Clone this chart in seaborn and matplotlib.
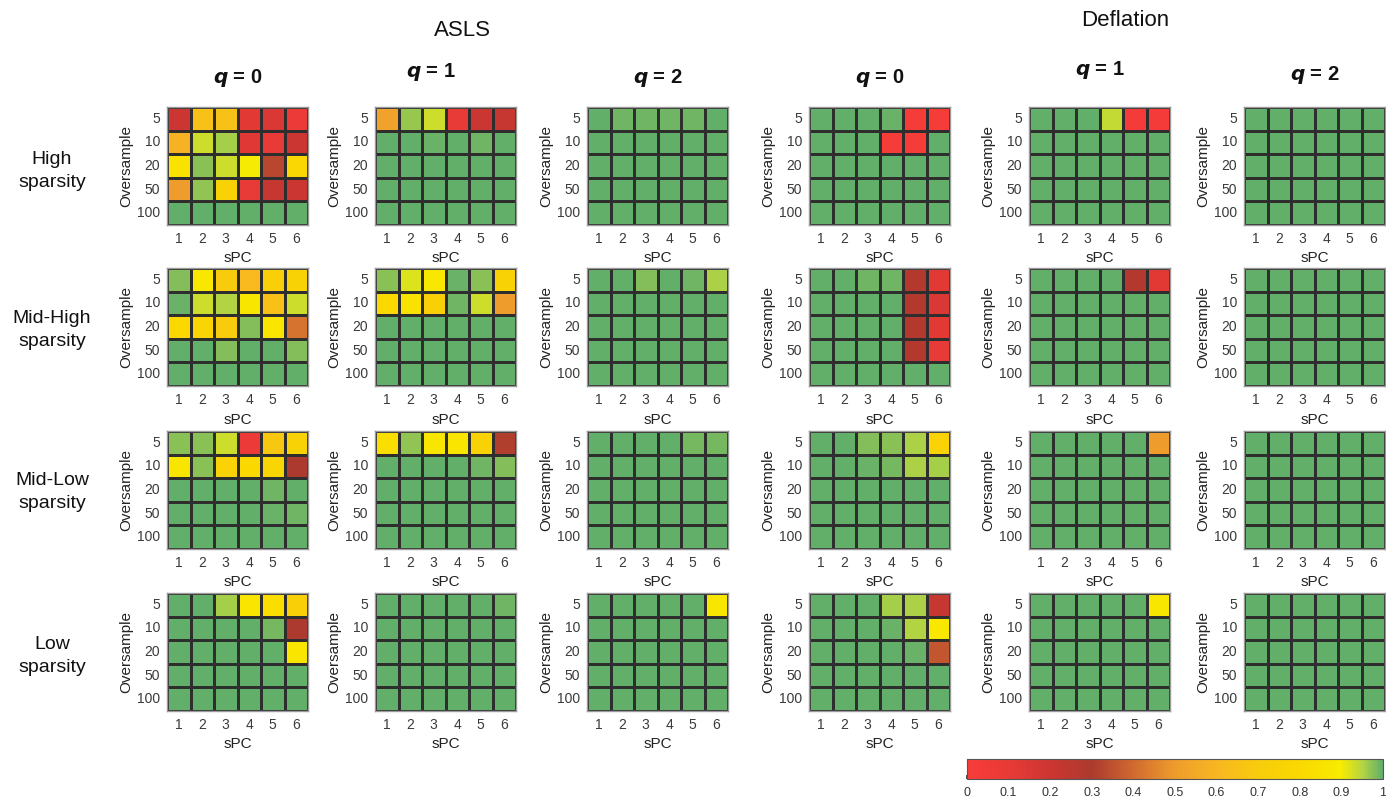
import numpy as np
import pandas as pd
import matplotlib
matplotlib.use("Agg")
import matplotlib.pyplot as plt
from matplotlib.colors import LinearSegmentedColormap, Normalize
from matplotlib.cm import ScalarMappable
import seaborn as sns

sns.set_theme(style="white")
plt.rcParams["font.family"] = ["Liberation Sans", "DejaVu Sans"]

# axis categories
oversample = ["5", "10", "20", "50", "100"]
spc = ["1", "2", "3", "4", "5", "6"]
sparsity_levels = ["High\nsparsity", "Mid-High\nsparsity", "Mid-Low\nsparsity", "Low\nsparsity"]
methods = ["ASLS", "Deflation"]
q_values = [0, 1, 2]
cbar_ticks = [0, 0.1, 0.2, 0.3, 0.4, 0.5, 0.6, 0.7, 0.8, 0.9, 1]

# success rate, rows = oversample, columns = sPC
asls_high_q0 = [[0.20, 0.65, 0.65, 0.12, 0.15, 0.08],
                [0.58, 0.93, 0.96, 0.13, 0.10, 0.20],
                [0.85, 0.975, 0.93, 0.90, 0.33, 0.78],
                [0.50, 0.97, 0.75, 0.10, 0.22, 0.20],
                [1.0, 1.0, 1.0, 1.0, 1.0, 1.0]]
asls_high_q1 = [[0.52, 0.965, 0.93, 0.10, 0.20, 0.22],
                [1.0, 1.0, 0.995, 1.0, 0.99, 1.0],
                [1.0, 1.0, 1.0, 1.0, 1.0, 1.0],
                [1.0, 1.0, 1.0, 1.0, 1.0, 1.0],
                [1.0, 1.0, 1.0, 1.0, 1.0, 1.0]]
asls_high_q2 = [[1.0, 0.99, 0.99, 0.99, 0.99, 1.0],
                [1.0, 1.0, 1.0, 1.0, 1.0, 1.0],
                [1.0, 1.0, 1.0, 1.0, 1.0, 1.0],
                [1.0, 1.0, 1.0, 1.0, 1.0, 1.0],
                [1.0, 1.0, 1.0, 1.0, 1.0, 1.0]]
defl_high_q0 = [[1.0, 1.0, 1.0, 0.995, 0.02, 0.02],
                [1.0, 1.0, 1.0, 0.02, 0.02, 1.0],
                [1.0, 1.0, 1.0, 1.0, 1.0, 1.0],
                [1.0, 1.0, 1.0, 1.0, 1.0, 1.0],
                [1.0, 1.0, 1.0, 1.0, 1.0, 1.0]]
defl_high_q1 = [[1.0, 1.0, 1.0, 0.94, 0.03, 0.03],
                [1.0, 1.0, 1.0, 1.0, 1.0, 1.0],
                [1.0, 1.0, 1.0, 1.0, 1.0, 1.0],
                [1.0, 1.0, 1.0, 1.0, 1.0, 1.0],
                [1.0, 1.0, 1.0, 1.0, 1.0, 1.0]]
defl_high_q2 = [[1.0, 1.0, 1.0, 1.0, 1.0, 1.0],
                [1.0, 1.0, 1.0, 1.0, 1.0, 1.0],
                [1.0, 1.0, 1.0, 1.0, 1.0, 1.0],
                [1.0, 1.0, 1.0, 1.0, 1.0, 1.0],
                [1.0, 1.0, 1.0, 1.0, 1.0, 1.0]]

asls_midhigh_q0 = [[0.98, 0.88, 0.70, 0.62, 0.72, 0.75],
                   [0.995, 0.93, 0.95, 0.87, 0.65, 0.93],
                   [0.80, 0.77, 0.70, 0.98, 0.86, 0.42],
                   [1.0, 1.0, 0.98, 1.0, 1.0, 0.98],
                   [1.0, 1.0, 1.0, 1.0, 1.0, 1.0]]
asls_midhigh_q1 = [[0.975, 0.92, 0.88, 0.995, 0.975, 0.75],
                   [0.80, 0.85, 0.73, 0.99, 0.93, 0.50],
                   [1.0, 1.0, 1.0, 1.0, 1.0, 1.0],
                   [1.0, 1.0, 1.0, 1.0, 1.0, 1.0],
                   [1.0, 1.0, 1.0, 1.0, 1.0, 1.0]]
asls_midhigh_q2 = [[1.0, 1.0, 0.98, 1.0, 0.99, 0.955],
                   [1.0, 1.0, 1.0, 1.0, 1.0, 1.0],
                   [1.0, 1.0, 1.0, 1.0, 1.0, 1.0],
                   [1.0, 1.0, 1.0, 1.0, 1.0, 1.0],
                   [1.0, 1.0, 1.0, 1.0, 1.0, 1.0]]
defl_midhigh_q0 = [[1.0, 1.0, 0.99, 0.99, 0.28, 0.12],
                   [1.0, 1.0, 1.0, 1.0, 0.28, 0.15],
                   [1.0, 1.0, 1.0, 1.0, 0.28, 0.12],
                   [1.0, 1.0, 1.0, 1.0, 0.28, 0.10],
                   [1.0, 1.0, 1.0, 1.0, 1.0, 1.0]]
defl_midhigh_q1 = [[1.0, 1.0, 1.0, 1.0, 0.28, 0.12],
                   [1.0, 1.0, 1.0, 1.0, 1.0, 1.0],
                   [1.0, 1.0, 1.0, 1.0, 1.0, 1.0],
                   [1.0, 1.0, 1.0, 1.0, 1.0, 1.0],
                   [1.0, 1.0, 1.0, 1.0, 1.0, 1.0]]
defl_midhigh_q2 = [[1.0, 1.0, 1.0, 1.0, 1.0, 1.0],
                   [1.0, 1.0, 1.0, 1.0, 1.0, 1.0],
                   [1.0, 1.0, 1.0, 1.0, 1.0, 1.0],
                   [1.0, 1.0, 1.0, 1.0, 1.0, 1.0],
                   [1.0, 1.0, 1.0, 1.0, 1.0, 1.0]]

asls_midlow_q0 = [[0.975, 0.975, 0.93, 0.08, 0.68, 0.75],
                  [0.87, 0.975, 0.76, 0.80, 0.77, 0.30],
                  [1.0, 1.0, 1.0, 1.0, 0.99, 1.0],
                  [1.0, 1.0, 1.0, 1.0, 0.995, 0.99],
                  [1.0, 1.0, 1.0, 1.0, 1.0, 1.0]]
asls_midlow_q1 = [[0.83, 0.97, 0.87, 0.86, 0.75, 0.31],
                  [1.0, 1.0, 1.0, 1.0, 0.99, 0.98],
                  [1.0, 1.0, 1.0, 1.0, 1.0, 1.0],
                  [1.0, 1.0, 1.0, 1.0, 1.0, 1.0],
                  [1.0, 1.0, 1.0, 1.0, 1.0, 1.0]]
asls_midlow_q2 = [[1.0, 1.0, 1.0, 1.0, 0.985, 0.985],
                  [1.0, 1.0, 1.0, 1.0, 1.0, 1.0],
                  [1.0, 1.0, 1.0, 1.0, 1.0, 1.0],
                  [1.0, 1.0, 1.0, 1.0, 1.0, 1.0],
                  [1.0, 1.0, 1.0, 1.0, 1.0, 1.0]]
defl_midlow_q0 = [[1.0, 1.0, 0.98, 0.975, 0.955, 0.76],
                  [1.0, 1.0, 0.995, 0.985, 0.955, 0.96],
                  [1.0, 1.0, 1.0, 1.0, 1.0, 1.0],
                  [1.0, 1.0, 1.0, 1.0, 1.0, 1.0],
                  [1.0, 1.0, 1.0, 1.0, 1.0, 1.0]]
defl_midlow_q1 = [[1.0, 1.0, 1.0, 1.0, 1.0, 0.50],
                  [1.0, 1.0, 1.0, 1.0, 1.0, 1.0],
                  [1.0, 1.0, 1.0, 1.0, 1.0, 1.0],
                  [1.0, 1.0, 1.0, 1.0, 1.0, 1.0],
                  [1.0, 1.0, 1.0, 1.0, 1.0, 1.0]]
defl_midlow_q2 = [[1.0, 1.0, 1.0, 1.0, 1.0, 1.0],
                  [1.0, 1.0, 1.0, 1.0, 1.0, 1.0],
                  [1.0, 1.0, 1.0, 1.0, 1.0, 1.0],
                  [1.0, 1.0, 1.0, 1.0, 1.0, 1.0],
                  [1.0, 1.0, 1.0, 1.0, 1.0, 1.0]]

asls_low_q0 = [[1.0, 1.0, 0.96, 0.86, 0.83, 0.73],
               [1.0, 1.0, 1.0, 1.0, 0.985, 0.30],
               [1.0, 1.0, 1.0, 1.0, 1.0, 0.86],
               [1.0, 1.0, 1.0, 1.0, 1.0, 1.0],
               [1.0, 1.0, 1.0, 1.0, 1.0, 1.0]]
asls_low_q1 = [[1.0, 1.0, 1.0, 1.0, 1.0, 0.99],
               [1.0, 1.0, 1.0, 1.0, 1.0, 1.0],
               [1.0, 1.0, 1.0, 1.0, 1.0, 1.0],
               [1.0, 1.0, 1.0, 1.0, 1.0, 1.0],
               [1.0, 1.0, 1.0, 1.0, 1.0, 1.0]]
asls_low_q2 = [[1.0, 1.0, 1.0, 1.0, 1.0, 0.87],
               [1.0, 1.0, 1.0, 1.0, 1.0, 1.0],
               [1.0, 1.0, 1.0, 1.0, 1.0, 1.0],
               [1.0, 1.0, 1.0, 1.0, 1.0, 1.0],
               [1.0, 1.0, 1.0, 1.0, 1.0, 1.0]]
defl_low_q0 = [[1.0, 1.0, 1.0, 0.96, 0.955, 0.22],
               [1.0, 1.0, 1.0, 0.995, 0.95, 0.88],
               [1.0, 1.0, 1.0, 1.0, 0.995, 0.36],
               [1.0, 1.0, 1.0, 1.0, 1.0, 1.0],
               [1.0, 1.0, 1.0, 1.0, 1.0, 1.0]]
defl_low_q1 = [[1.0, 1.0, 1.0, 1.0, 1.0, 0.87],
               [1.0, 1.0, 1.0, 1.0, 1.0, 1.0],
               [1.0, 1.0, 1.0, 1.0, 1.0, 1.0],
               [1.0, 1.0, 1.0, 1.0, 1.0, 1.0],
               [1.0, 1.0, 1.0, 1.0, 1.0, 1.0]]
defl_low_q2 = [[1.0, 1.0, 1.0, 1.0, 1.0, 1.0],
               [1.0, 1.0, 1.0, 1.0, 1.0, 1.0],
               [1.0, 1.0, 1.0, 1.0, 1.0, 1.0],
               [1.0, 1.0, 1.0, 1.0, 1.0, 1.0],
               [1.0, 1.0, 1.0, 1.0, 1.0, 1.0]]

panels = [
    [asls_high_q0, asls_high_q1, asls_high_q2, defl_high_q0, defl_high_q1, defl_high_q2],
    [asls_midhigh_q0, asls_midhigh_q1, asls_midhigh_q2, defl_midhigh_q0, defl_midhigh_q1, defl_midhigh_q2],
    [asls_midlow_q0, asls_midlow_q1, asls_midlow_q2, defl_midlow_q0, defl_midlow_q1, defl_midlow_q2],
    [asls_low_q0, asls_low_q1, asls_low_q2, defl_low_q0, defl_low_q1, defl_low_q2],
]

# red -> dark red -> orange -> yellow -> green
cmap = LinearSegmentedColormap.from_list("success", [
    (0.00, "#F83C3A"),
    (0.10, "#E83A36"),
    (0.20, "#CC3632"),
    (0.30, "#AC3A2E"),
    (0.40, "#D06A30"),
    (0.50, "#EE9C2C"),
    (0.60, "#F8B622"),
    (0.70, "#F8CC0C"),
    (0.80, "#FAD800"),
    (0.90, "#F8EC00"),
    (0.95, "#B8D640"),
    (1.00, "#62AF6A"),
])

W, H = 1386, 797
fig = plt.figure(figsize=(W / 100, H / 100), dpi=100)

col_left = [167, 375, 587, 809, 1029, 1244]
row_top = [107, 268, 431, 593]
pw, ph = 141, 118

def px_axes(x, y, w, h):
    return fig.add_axes([x / W, 1 - (y + h) / H, w / W, h / H])

for r, row_panels in enumerate(panels):
    for c, vals in enumerate(row_panels):
        ax = px_axes(col_left[c], row_top[r], pw, ph)
        df = pd.DataFrame(vals, index=oversample, columns=spc)
        sns.heatmap(df, ax=ax, cmap=cmap, vmin=0, vmax=1, cbar=False,
                    linewidths=1.0, linecolor="#2e2e2e", square=False)
        for s in ax.spines.values():
            s.set_visible(True)
            s.set_color("#9a9a9a")
            s.set_linewidth(1.0)
        ax.tick_params(axis="both", length=0, labelsize=10, colors="#3a3a3a", pad=5)
        ax.set_yticklabels(oversample, rotation=0)
        ax.set_xticklabels(spc, rotation=0)
        ax.set_xlabel("sPC", fontsize=11, color="#222222", labelpad=4)
        ax.set_ylabel("Oversample", fontsize=11, color="#222222", labelpad=3)

# column headers
q_x = [238, 431, 658, 880, 1100, 1315]
q_y = [78, 72, 78, 78, 70, 75]
for i in range(6):
    q = q_values[i % 3]
    fig.text(q_x[i] / W, 1 - q_y[i] / H, f"$\\bfit{{q}}$ = {q}", ha="center", va="center",
             fontsize=14.5, fontweight="bold", color="#111111")

fig.text(462 / W, 1 - 30 / H, methods[0], ha="center", va="center", fontsize=16, color="#111111")
fig.text(1125 / W, 1 - 20 / H, methods[1], ha="center", va="center", fontsize=16, color="#111111")

# row headers
row_y = [171, 330, 492, 656]
for label, y in zip(sparsity_levels, row_y):
    fig.text(52 / W, 1 - y / H, label, ha="center", va="center", fontsize=14,
             color="#111111", linespacing=1.5)

# colour bar
cax = px_axes(967, 759, 416, 20)
sm = ScalarMappable(norm=Normalize(0, 1), cmap=cmap)
cb = fig.colorbar(sm, cax=cax, orientation="horizontal", ticks=cbar_ticks)
cb.ax.set_xticklabels([f"{t:g}" for t in cbar_ticks])
cb.ax.tick_params(labelsize=9, colors="#333333", length=3, direction="in", pad=6)
cb.outline.set_edgecolor("#555555")
cb.outline.set_linewidth(0.8)

fig.savefig("out.png", dpi=100, facecolor="white")
